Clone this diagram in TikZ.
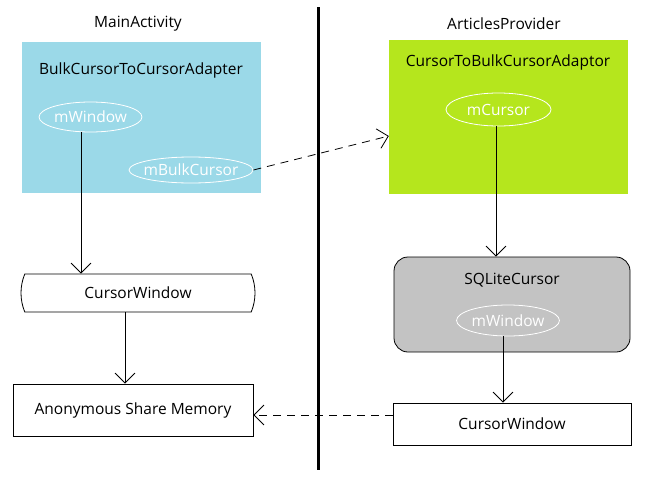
\documentclass[tikz,border=0pt]{standalone}
\usepackage{fontspec}
\setmainfont{Open Sans}
\usetikzlibrary{arrows.meta,shapes.geometric,shapes.misc}
\definecolor{adapterblue}{RGB}{155,217,232}
\definecolor{adaptorgreen}{RGB}{181,230,29}
\definecolor{cursorgray}{RGB}{195,195,195}
\tikzset{every node/.style={inner sep=0pt,font=\fontsize{15.5}{18}\selectfont}}
\tikzset{box/.style={rectangle,draw,line width=0.8pt}}
\tikzset{field/.style={ellipse,draw=white,text=white,line width=0.8pt}}
\tikzset{link/.style={line width=0.8pt,-{Straight Barb[length=10pt,width=20pt]}}}
\tikzset{weak/.style={link,dash pattern=on 8pt off 6pt}}

\begin{document}
\begin{tikzpicture}[x=1pt,y=-1pt]
      \useasboundingbox (0,0) rectangle (648,479);
      \draw[line width=3pt] (318,7) -- (318,470);
      \node (main) at (138,24) {MainActivity};
      \node (prov) at (504,24) {ArticlesProvider};
      % process boxes
      \node[fill=adapterblue,minimum width=239pt,minimum height=151pt] (adapter) at (141.5,117.5) {};
      \node (adaptername) at (141,70) {BulkCursorToCursorAdapter};
      \node[field,minimum width=101pt,minimum height=30pt] (mwin) at (90.5,117) {mWindow};
      \node[field,inner xsep=-6pt,minimum width=124pt,minimum height=26pt] (mbulk) at (191,170) {mBulkCursor};
      \node[fill=adaptorgreen,minimum width=239pt,minimum height=154pt] (adaptor) at (508.5,117) {};
      \node (adaptorname) at (508,62) {CursorToBulkCursorAdaptor};
      \node[field,minimum width=105pt,minimum height=33pt] (mcur) at (498.5,109.5) {mCursor};
      \node[box,fill=cursorgray,rounded corners=14pt,minimum width=236pt,minimum height=95pt] (sqlite) at (512,304.5) {};
      \node (sqlitename) at (512,280) {SQLiteCursor};
      \node[field,minimum width=102pt,minimum height=31pt] (mwin2) at (508,320.5) {mWindow};
      % windows and memory
      \node[box,rounded rectangle,rounded rectangle arc length=45,minimum width=234pt,minimum height=38pt] (cwleft) at (138,293) {CursorWindow};
      \node[box,minimum width=240pt,minimum height=52pt] (asm) at (133,410) {Anonymous Share Memory};
      \node[box,minimum width=238pt,minimum height=42pt] (cwright) at (512,424) {CursorWindow};
        \draw[link] (mwin.south -| 81,0) -- (cwleft.north -| 81,0);
        \draw[link] (cwleft.south -| 125,0) -- (asm.north -| 125,0);
        \draw[link] (mcur.south -| 496,0) -- (sqlite.north -| 496,0);
        \draw[link] (mwin2.south -| 503,0) -- (cwright.north -| 503,0);
        \draw[weak] (mbulk.east) -- ([yshift=-19pt]adaptor.west);
        \draw[weak] (cwright.west |- 0,415) -- (asm.east |- 0,415);
    \end{tikzpicture}
\end{document}
